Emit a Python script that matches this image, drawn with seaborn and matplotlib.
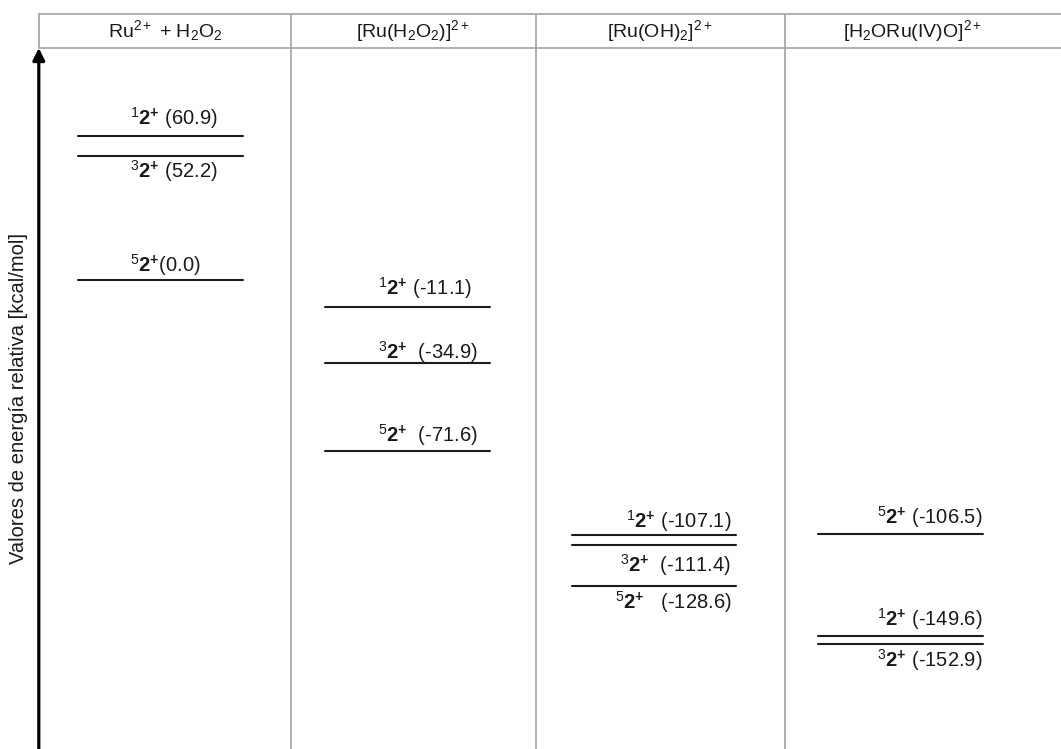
import matplotlib
matplotlib.use("Agg")
import matplotlib.pyplot as plt
import numpy as np
import pandas as pd
import seaborn as sns

# ---- data -----------------------------------------------------------------
stages = [
    r"Ru$^{2+}$ + H$_2$O$_2$",
    r"[Ru(H$_2$O$_2$)]$^{2+}$",
    r"[Ru(OH)$_2$]$^{2+}$",
    r"[H$_2$ORu(IV)O]$^{2+}$",
]
level_stage = [0, 0, 0, 1, 1, 1, 2, 2, 2, 3, 3, 3]
level_spin = [1, 3, 5, 1, 3, 5, 1, 3, 5, 5, 1, 3]
level_energy = [60.9, 52.2, 0.0, -11.1, -34.9, -71.6,
                -107.1, -111.4, -128.6, -106.5, -149.6, -152.9]
ylabel = "Valores de energía relativa [kcal/mol]"

# ---- layout ---------------------------------------------------------------
W, H, DPI = 1061, 749, 100
half_w = 0.334                     # half length of a level bar (column units)
col_edges = [0.53, 1.52, 2.53]     # separators between columns
xlim = (-0.4933, 3.650)
ylim = (-197.1, 97.8)
# label placement per level: (pixel dx, pixel dy from the bar, anchor)
label_dy = [10.7, -21.6, 9.0, 11.7, 4.3, 9.0, 7.6, -27.0, -22.3, 9.4, 10.7, -22.7]
label_gap = [" ", " ", "", " ", "  ", "  ", " ", "  ", "   ", " ", " ", " "]
# per column: which end of the bar the label is attached to, and the offset
stage_anchor = {0: ("left", 52), 1: ("left", 53), 2: ("right", -5), 3: ("right", -1)}

sns.set_theme(style="white")
plt.rcParams["font.family"] = ["Liberation Sans", "DejaVu Sans"]
plt.rcParams["mathtext.fontset"] = "custom"
plt.rcParams["mathtext.rm"] = "Liberation Sans"
plt.rcParams["mathtext.it"] = "Liberation Sans:italic"
plt.rcParams["mathtext.bf"] = "Liberation Sans:bold"

fig = plt.figure(figsize=(W / DPI, H / DPI), dpi=DPI)
left = 38.8 / W
ax = fig.add_axes([left, 0, 1 - left, (H - 48) / H])
hdr = fig.add_axes([left, (H - 48) / H, 1 - left, 34 / H])

# level bars as short horizontal segments
rows = []
for k, (s, e) in enumerate(zip(level_stage, level_energy)):
    rows.append({"x": s - half_w, "E": e, "level": k})
    rows.append({"x": s + half_w, "E": e, "level": k})
bars = pd.DataFrame(rows)
sns.lineplot(data=bars, x="x", y="E", units="level", estimator=None,
             color="#1c1c1c", lw=1.5, ax=ax, legend=False)

ax.set_xlim(*xlim)
ax.set_ylim(*ylim)
ax.set_xticks([])
ax.set_yticks([])
ax.set_xlabel("")
ax.set_ylabel("")
for sp in ax.spines.values():
    sp.set_visible(False)

sep_color = "#a9a9a9"
for xe in col_edges:
    ax.axvline(xe, color=sep_color, lw=1.3, zorder=0)

# energy axis arrow
ax.annotate("", xy=(0, 1), xytext=(0, 0), xycoords="axes fraction",
            arrowprops=dict(arrowstyle="-|>,head_length=0.6,head_width=0.3",
                            mutation_scale=12, lw=2.3, color="black",
                            shrinkA=0, shrinkB=0))
fig.text(19 / W, 1 - 398 / H, ylabel, rotation=90, ha="center", va="center",
         fontsize=14.5, color="#1a1a1a")

# state labels
for k, (s, sp_, e) in enumerate(zip(level_stage, level_spin, level_energy)):
    side, dx = stage_anchor[s]
    xa = s - half_w if side == "left" else s + half_w
    txt = r"${}^{%d}\mathbf{2}^{\mathbf{+}}$%s(%.1f)" % (sp_, label_gap[k], e)
    ax.annotate(txt, xy=(xa, e), xytext=(dx, label_dy[k]),
                textcoords="offset pixels", ha=side, va="baseline",
                fontsize=14.5, color="#1a1a1a")

# header row with the stage names
hdr.set_xlim(*xlim)
hdr.set_ylim(0, 1)
hdr.set_xticks([])
hdr.set_yticks([])
hdr.set_facecolor("white")
for name in ("top", "bottom", "left"):
    hdr.spines[name].set_visible(True)
    hdr.spines[name].set_color(sep_color)
    hdr.spines[name].set_linewidth(1.3)
hdr.spines["right"].set_visible(False)
for xe in col_edges:
    hdr.axvline(xe, color=sep_color, lw=1.3)
cells = [xlim[0]] + col_edges + [3.565]
for i, name in enumerate(stages):
    xc = 0.5 * (cells[i] + cells[i + 1])
    hdr.text(xc, 0.32, name, ha="center", va="baseline", fontsize=14,
             color="#1a1a1a")

fig.savefig("out.png", dpi=DPI, facecolor="white")
